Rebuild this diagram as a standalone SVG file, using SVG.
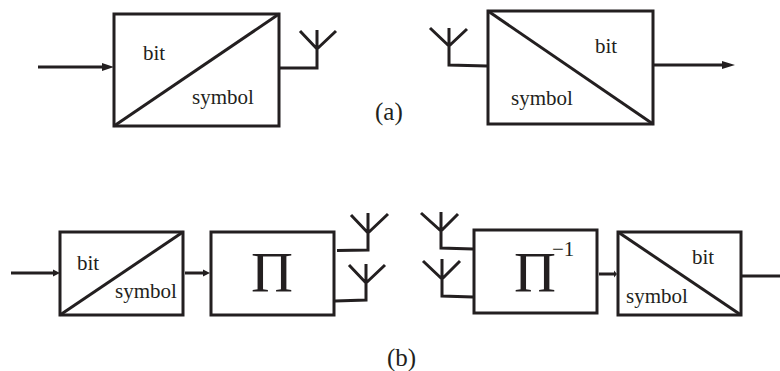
<svg xmlns="http://www.w3.org/2000/svg" width="780" height="371" viewBox="0 0 780 371">
<style>
.b{fill:#fff;stroke:#231f20;stroke-width:3}
.l{fill:none;stroke:#231f20;stroke-width:3}
.t{fill:#231f20;stroke:none;font-family:"Liberation Serif","Times New Roman",serif}
.s{font-size:21px}
.c{font-size:25px}
.p{font-size:56px}
.a{fill:#231f20;stroke:none}
</style>
<rect width="780" height="371" fill="#fff"/>
<g id="connectors">
<path class="l" d="M38 67H104"/><path class="a" d="M102 63L114 67L102 71Z"/>
<path class="l" d="M279 68H317V49M300 31L317 49L336 31M317 30V49"/>
<path class="l" d="M487 66L449 65V46M430 28L449 46L467 29M449 28V46"/>
<path class="l" d="M654 65H724"/><path class="a" d="M722 61L735 65L722 69Z"/>
<path class="l" d="M11 273H54"/><path class="a" d="M53 269.500L60 273L53 276.500Z"/>
<path class="l" d="M185 273H204"/><path class="a" d="M203 269.500L210 273L203 276.500Z"/>
<path class="l" d="M337 250.500L368 250V233M351 215L368 233L388 214M368 213V233"/>
<path class="l" d="M335 301L366 300V282M349 265L366 283L385 265M366 264V283"/>
<path class="l" d="M473 249L441 248V231M421 213L441 231L458 214M441 212V231"/>
<path class="l" d="M473 297L442 296V279M423 261L442 279L460 261M442 259V279"/>
<path class="l" d="M599 274H615"/><path class="a" d="M614 270.500L617 274L614 277.500Z"/>
<path class="l" d="M742 276H780"/>
</g>
<g id="encoder-a">
<rect class="b" x="114" y="14" width="165" height="112"/>
<path class="l" d="M114 126L279 14"/>
<text class="t s" x="143" y="60">bit</text>
<text class="t s" x="192" y="104">symbol</text>
</g>
<g id="decoder-a">
<rect class="b" x="488" y="11" width="165" height="113"/>
<path class="l" d="M488 11L653 124"/>
<text class="t s" x="595" y="53">bit</text>
<text class="t s" x="511" y="105">symbol</text>
</g>
<g id="encoder-b">
<rect class="b" x="60" y="232" width="123" height="83"/>
<path class="l" d="M60 315L183 232"/>
<text class="t s" x="77" y="270">bit</text>
<text class="t s" x="115" y="298">symbol</text>
</g>
<g id="interleaver">
<rect class="b" x="211" y="232" width="123" height="83"/>
<text class="t p" x="272" y="292" text-anchor="middle" textLength="42" lengthAdjust="spacingAndGlyphs">Π</text>
</g>
<g id="deinterleaver">
<rect class="b" x="474" y="230" width="123" height="83"/>
<text class="t p" x="535" y="292" text-anchor="middle" textLength="42" lengthAdjust="spacingAndGlyphs">Π</text>
<text class="t s" x="552" y="256">−1</text>
</g>
<g id="decoder-b">
<rect class="b" x="618" y="232" width="123" height="83"/>
<path class="l" d="M618 232L741 315"/>
<text class="t s" x="692" y="264">bit</text>
<text class="t s" x="626" y="303">symbol</text>
</g>
<text id="label-a" class="t c" x="375" y="120">(a)</text>
<text id="label-b" class="t c" x="387" y="366">(b)</text>
</svg>
